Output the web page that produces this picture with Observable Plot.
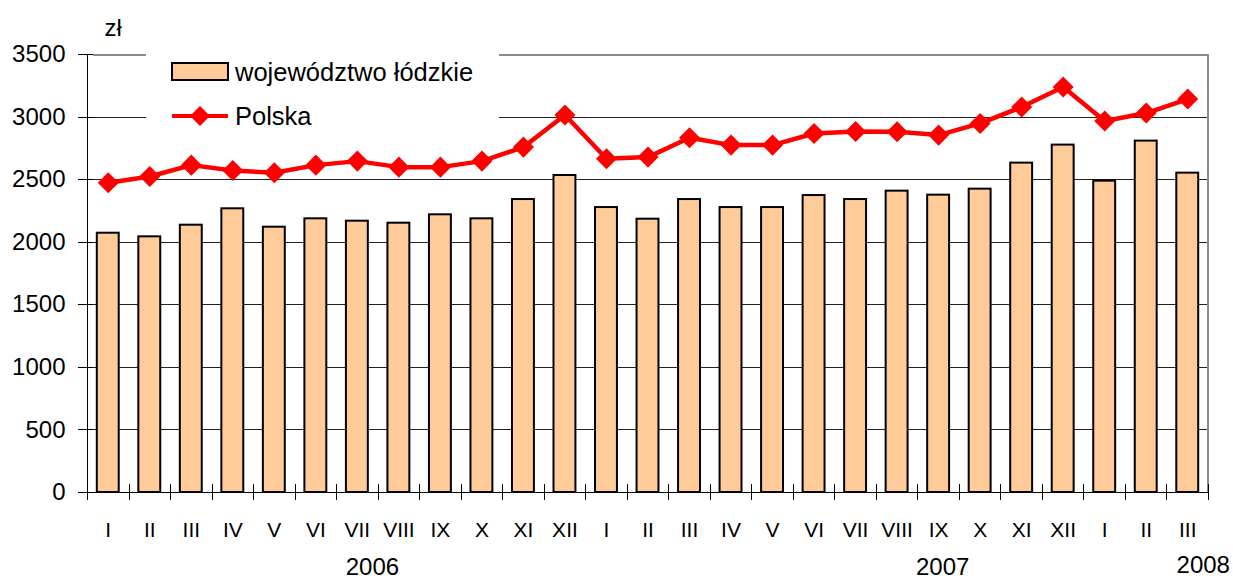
<!DOCTYPE html>
<html><head><meta charset="utf-8">
<script src="https://cdn.jsdelivr.net/npm/d3@7"></script>
<script src="https://cdn.jsdelivr.net/npm/@observablehq/plot@0.6"></script>
<style>
body{margin:0;background:#fff;font-family:"Liberation Sans",Arial,sans-serif;}
#wrap{position:relative;width:1233px;height:579px;overflow:hidden;}
#legend{position:absolute;left:146px;top:44px;width:353px;height:90px;background:#fff;}
#legend text{font-family:"Liberation Sans",Arial,sans-serif;font-size:25.5px;fill:#000;}
</style></head>
<body><div id="wrap"><div id="chart"></div>
<div id="legend"><svg width="353" height="90">
<rect x="26" y="19" width="56" height="17" fill="#FFCC99" stroke="#000" stroke-width="2"/>
<text x="89" y="28" dominant-baseline="central">województwo łódzkie</text>
<line x1="26" x2="82" y1="72" y2="72" stroke="#FF0000" stroke-width="4"/>
<path d="M54,62L64,72L54,82L44,72Z" fill="#FF0000"/>
<text x="89" y="72" dominant-baseline="central">Polska</text>
</svg></div></div>
<script>
const months = ["I","II","III","IV","V","VI","VII","VIII","IX","X","XI","XII",
                "I","II","III","IV","V","VI","VII","VIII","IX","X","XI","XII",
                "I","II","III"];
const monthYears = [2006,2006,2006,2006,2006,2006,2006,2006,2006,2006,2006,2006,
                    2007,2007,2007,2007,2007,2007,2007,2007,2007,2007,2007,2007,
                    2008,2008,2008];
const lodzkie = [2072,2043,2136,2267,2120,2187,2168,2152,2219,2187,2341,2533,
                 2277,2184,2341,2277,2277,2373,2341,2408,2376,2424,2632,2776,
                 2488,2808,2552];
const polska = [2475,2525,2616,2573,2555,2616,2648,2600,2600,2648,2760,3016,
                2667,2680,2835,2776,2776,2869,2885,2883,2856,2949,3080,3240,
                2968,3032,3144];
const yTicks = [0,500,1000,1500,2000,2500,3000,3500];
const yearLabels = ["2006","2007","2008"];
const yearAnchorMonths = ["VII","IX","III"];
const unitLabel = "zł";

const W = 1233, H = 579, mL = 87, mR = 25, mT = 54, mB = 87;
const keys = months.map((m, i) => monthYears[i] + " " + m);
const data = keys.map((k, i) => ({k, m: months[i], l: lodzkie[i], p: polska[i]}));
const bw = (W - mL - mR) / keys.length;
const yearData = yearLabels.map((y, i) => ({year: y, k: y + " " + yearAnchorMonths[i]}));
const yearDx = [15, 4, 15.5];
const yearDy = [74.5, 75, 72.5];
const font = "Liberation Sans, Arial, sans-serif";
const first = keys[0], last = keys[keys.length - 1];
const F = () => first, L = () => last;
const crisp = {shapeRendering: "crispEdges"};

const plot = Plot.plot({
  width: W, height: H,
  marginLeft: mL, marginRight: mR, marginTop: mT, marginBottom: mB,
  style: {fontFamily: font, fontSize: "21px", color: "#000", background: "#fff"},
  x: {type: "band", domain: keys, padding: 0, round: false},
  y: {domain: [0, 3500]},
  marks: [
    Plot.ruleY(yTicks.filter(v => v > 0 && v < 3500), {x1: F, x2: L, insetLeft: 6, insetRight: 0, stroke: "#222", strokeWidth: 1, ...crisp}),
    Plot.ruleY([3500], {x1: F, x2: L, insetLeft: 6, insetRight: 0, stroke: "#8c8c8c", strokeWidth: 2, ...crisp}),
    Plot.ruleX([last], {x: d => d, y1: 0, y2: 3500, dx: bw / 2, stroke: "#8c8c8c", strokeWidth: 2, ...crisp}),
    Plot.barY(data, {x: "k", y: "l", fill: "#FFCC99", stroke: "#000", strokeWidth: 2, insetLeft: 9.8, insetRight: 9.8}),
    Plot.ruleY([0], {x1: F, x2: L, stroke: "#000", ...crisp}),
    Plot.ruleX([first], {x: d => d, y1: 0, y2: 3500, dx: -bw / 2, stroke: "#000", ...crisp}),
    Plot.ruleY(yTicks, {x1: F, x2: F, insetLeft: -9, insetRight: bw - 6, stroke: "#000", ...crisp}),
    Plot.ruleX(keys, {x: d => d, y1: 0, y2: 0, insetTop: -8, insetBottom: -8, dx: -bw / 2, stroke: "#000", ...crisp}),
    Plot.ruleX([last], {x: d => d, y1: 0, y2: 0, insetTop: -8, insetBottom: -8, dx: bw / 2, stroke: "#000", ...crisp}),
    Plot.line(data, {x: "k", y: "p", stroke: "#FF0000", strokeWidth: 4.5}),
    Plot.dot(data, {x: "k", y: "p", symbol: "diamond2", r: 9.5, fill: "#FF0000", stroke: null}),
    Plot.axisY({ticks: yTicks, tickSize: 0, tickPadding: 22, tickFormat: d => String(d), fontSize: 24, label: null}),
    Plot.axisX({tickSize: 0, tickPadding: 29.5, tickFormat: k => k.split(" ")[1], fontSize: 21, label: null}),
    ...yearData.map((d, i) => Plot.text([d], {x: "k", y: () => 0, text: "year", dx: yearDx[i], dy: yearDy[i], fontSize: 24, lineAnchor: "middle"})),
    Plot.text([unitLabel], {frameAnchor: "top-left", dx: 17, dy: -26.5, lineAnchor: "middle", textAnchor: "start", fontSize: 24})
  ]
});
document.getElementById("chart").appendChild(plot);
</script>
</body></html>
